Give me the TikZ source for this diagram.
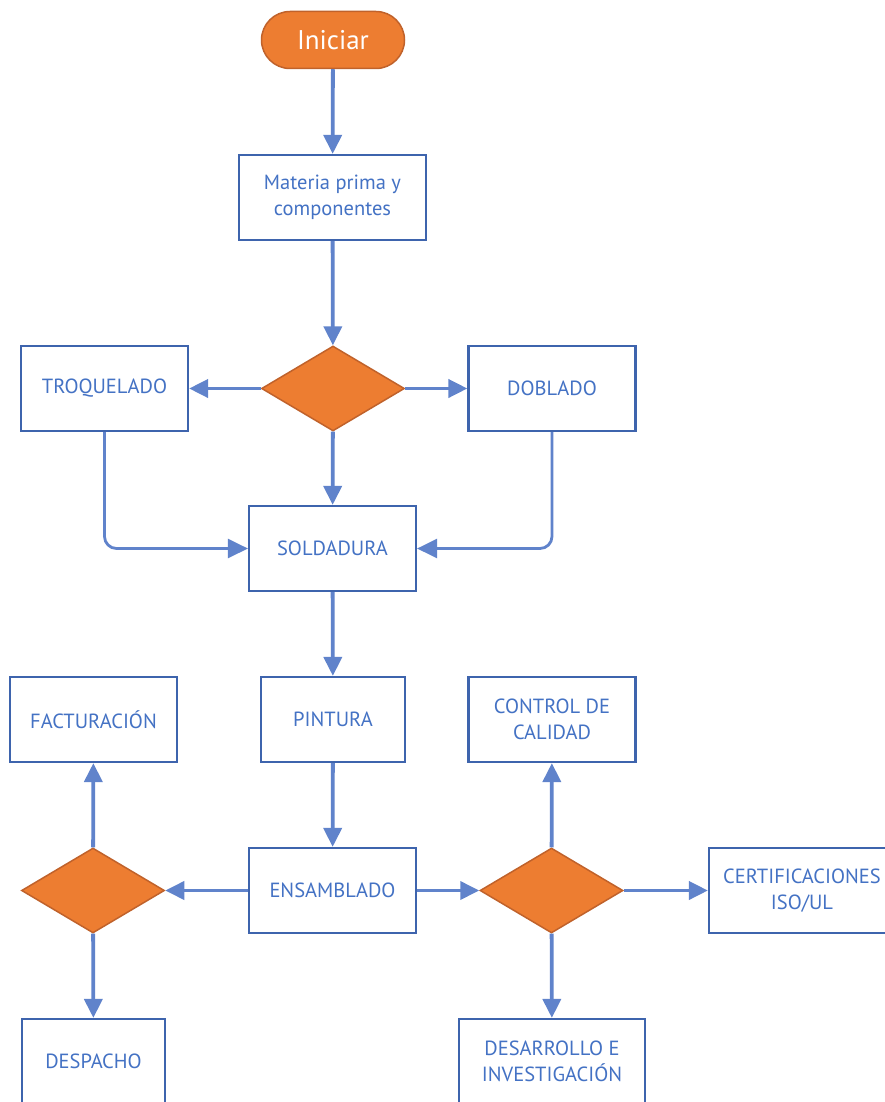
\documentclass[tikz,border=0pt]{standalone}
\usepackage{fontspec}
\setmainfont{PT Sans}
\usetikzlibrary{arrows.meta,shapes.geometric,shapes.misc}
\definecolor{flowline}{HTML}{6083CB}
\definecolor{boxedge}{HTML}{3E64AD}
\definecolor{boxtext}{HTML}{4472C4}
\definecolor{orangefill}{HTML}{ED7D31}
\definecolor{orangeedge}{HTML}{C0622B}
\tikzset{
  x=1pt, y=-1pt,
  stepbox/.style={draw=boxedge, line width=2.2pt, fill=white, text=boxtext,
    minimum width=#1, minimum height=85pt, inner sep=0pt, align=center,
    font=\fontsize{20.5}{26.5}\selectfont},
  stepbox/.default=167pt,
  decision/.style={diamond, draw=orangeedge, line width=1.5pt, fill=orangefill,
    minimum width=143pt, minimum height=85pt, inner sep=0pt, aspect=1.68},
  startnode/.style={rounded rectangle, draw=orangeedge, line width=1.5pt, fill=orangefill,
    text=white, minimum width=143pt, minimum height=57pt, inner sep=0pt,
    font=\fontsize{27}{30}\selectfont},
  flow/.style={draw=flowline, line width=3.8pt, -{Triangle[length=19pt,width=18pt]}},
  elbow/.style={draw=flowline, line width=2.8pt, rounded corners=12pt,
    -{Triangle[length=20pt,width=19pt]}},
}
\begin{document}
\begin{tikzpicture}
\useasboundingbox (0,0) rectangle (885,1102);
% start
\node[startnode] (start) at (333,40) {Iniciar};
% first row
\node[stepbox=187pt] (materia) at (332.5,197.5) {Materia prima y\\componentes};
\node[decision] (d1) at (333,388.5) {};
\node[stepbox] (troq) at (104.5,388.5) {TROQUELADO};
\node[stepbox] (dobl) at (552,388.5) {DOBLADO};
\node[stepbox] (sold) at (332.5,548.5) {SOLDADURA};
% middle row
\node[stepbox=144pt] (pint) at (333,719.5) {PINTURA};
\node[stepbox] (fact) at (93.5,719.5) {FACTURACIÓN};
\node[stepbox] (ctrl) at (552,719.5) {CONTROL DE\\CALIDAD};
% lower row
\node[stepbox] (ensa) at (332.5,890.5) {ENSAMBLADO};
\node[decision] (d2) at (93,890.5) {};
\node[decision] (d3) at (551.5,890.5) {};
\node[stepbox=186pt] (cert) at (802,890.5) {CERTIFICACIONES\\ISO/UL};
\node[stepbox=143pt] (desp) at (93.5,1061.5) {DESPACHO};
\node[stepbox=186pt] (desa) at (552,1061.5) {DESARROLLO E\\INVESTIGACIÓN};
% connectors
\draw[flow] (start) -- (materia);
\draw[flow] (materia) -- (d1);
\draw[flow] (d1) -- (troq);
\draw[flow] (d1) -- (dobl);
\draw[flow] (d1) -- (sold);
\draw[elbow] (troq.south) |- (sold.west);
\draw[elbow] (dobl.south) |- (sold.east);
\draw[flow] (sold) -- (pint);
\draw[flow] (pint) -- (ensa);
\draw[flow] (ensa) -- (d2);
\draw[flow] (d2) -- (fact);
\draw[flow] (d2) -- (desp);
\draw[flow] (ensa) -- (d3);
\draw[flow] (d3) -- (ctrl);
\draw[flow] (d3) -- (cert);
\draw[flow] (d3) -- (desa);
\end{tikzpicture}
\end{document}
